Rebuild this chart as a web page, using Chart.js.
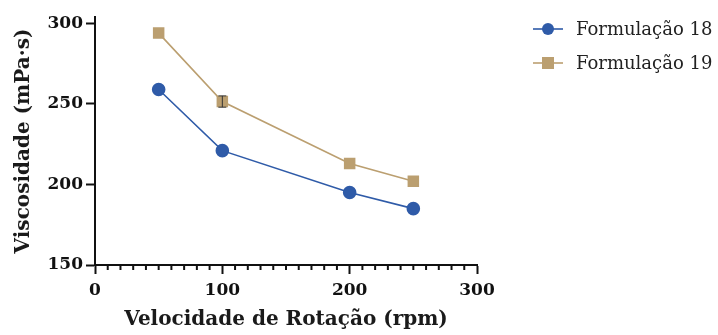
<!DOCTYPE html>
<html>
<head>
<meta charset="utf-8">
<script src="https://cdn.jsdelivr.net/npm/chart.js@4/dist/chart.umd.min.js"></script>
<style>
  html, body { margin: 0; padding: 0; background: #fff; }
  #wrap { position: relative; width: 718px; height: 335px; }
  canvas { display: block; }
  .leg { position: absolute; left: 533px; font: 18px "DejaVu Serif", serif; color: #222; display: flex; align-items: center; }
  .leg svg { margin-right: 13px; }
</style>
</head>
<body>
<div id="wrap">
  <canvas id="c" width="718" height="335"></canvas>
  <div class="leg" style="top:18px"><svg width="30" height="14"><line x1="0" y1="7" x2="30" y2="7" stroke="#2f5ba8" stroke-width="1.6"/><circle cx="15" cy="7" r="6" fill="#2f5ba8"/></svg>Formulação 18</div>
  <div class="leg" style="top:52px"><svg width="30" height="14"><line x1="0" y1="7" x2="30" y2="7" stroke="#bb9f70" stroke-width="1.6"/><rect x="9" y="1" width="12" height="12" fill="#bb9f70"/></svg>Formulação 19</div>
</div>
<script>
/* Viscosidade vs velocidade de rotação */

const rpm       = [50, 100, 200, 250];
const form18    = [259, 221, 195, 185];
const form19    = [294, 251.5, 213, 202];
const err18     = [0, 0, 0, 0];
const err19     = [0, 3.5, 0, 0];
const yTicks    = [150, 200, 250, 300];
const xTicks    = [0, 100, 200, 300];

const BLUE = "#2f5ba8";
const TAN  = "#bb9f70";
const TICK_FONT  = { family: "'DejaVu Serif', serif", size: 17, weight: "bold" };
const TITLE_FONT = { family: "'DejaVu Serif', serif", size: 20, weight: "bold" };

// error bars + minor ticks on x axis
const extras = {
  id: "extras",
  afterDatasetsDraw(chart) {
    const { ctx, scales: { x, y } } = chart;
    const errs = [err18, err19];
    ctx.save();
    chart.data.datasets.forEach((ds, i) => {
      ds.data.forEach((p, j) => {
        const e = errs[i][j];
        if (!e) return;
        const px = x.getPixelForValue(p.x);
        const y1 = y.getPixelForValue(p.y + e);
        const y2 = y.getPixelForValue(p.y - e);
        ctx.strokeStyle = "#333";
        ctx.lineWidth = 1;
        ctx.beginPath();
        ctx.moveTo(px, y1); ctx.lineTo(px, y2);
        ctx.moveTo(px - 4, y1); ctx.lineTo(px + 4, y1);
        ctx.moveTo(px - 4, y2); ctx.lineTo(px + 4, y2);
        ctx.stroke();
      });
    });
    // minor ticks every 10 rpm
    ctx.strokeStyle = "#111";
    ctx.lineWidth = 2;
    const base = y.bottom;
    for (let v = 10; v < 300; v += 10) {
      if (v % 100 === 0) continue;
      const px = x.getPixelForValue(v);
      ctx.beginPath();
      ctx.moveTo(px, base);
      ctx.lineTo(px, base + 5);
      ctx.stroke();
    }
    ctx.restore();
  },
};

new Chart(document.getElementById("c"), {
  type: "scatter",
  data: {
    datasets: [
      {
        label: "Formulação 18",
        data: rpm.map((r, i) => ({ x: r, y: form18[i] })),
        showLine: true,
        borderColor: BLUE,
        backgroundColor: BLUE,
        borderWidth: 1.6,
        pointStyle: "circle",
        pointRadius: 6,
        pointHoverRadius: 6,
      },
      {
        label: "Formulação 19",
        data: rpm.map((r, i) => ({ x: r, y: form19[i] })),
        showLine: true,
        borderColor: TAN,
        backgroundColor: TAN,
        borderWidth: 1.6,
        pointStyle: "rect",
        pointRadius: 7,
        pointHoverRadius: 7,
      },
    ],
  },
  options: {
    responsive: false,
    animation: false,
    layout: { padding: { top: 17, right: 241, left: 0, bottom: 0 } },
    plugins: { legend: { display: false }, tooltip: { enabled: false } },
    scales: {
      x: {
        type: "linear",
        min: 0,
        max: 300,
        afterBuildTicks: s => { s.ticks = xTicks.map(v => ({ value: v })); },
        afterFit: s => { s.height = 70; },
        grid: { drawOnChartArea: false, tickLength: 9, tickWidth: 2, tickColor: "#111" },
        border: { color: "#111", width: 2 },
        ticks: { color: "#111", font: TICK_FONT, padding: 6, maxRotation: 0 },
        title: { display: true, text: "Velocidade de Rotação (rpm)", color: "#1a1a1a", font: TITLE_FONT, padding: { top: 0, bottom: 3 } },
      },
      y: {
        type: "linear",
        min: 150,
        max: 304,
        afterBuildTicks: s => { s.ticks = yTicks.map(v => ({ value: v })); },
        afterFit: s => { s.width = 95; },
        grid: { drawOnChartArea: false, tickLength: 9, tickWidth: 2, tickColor: "#111" },
        border: { color: "#111", width: 2 },
        ticks: { color: "#111", font: TICK_FONT, padding: 3 },
        title: { display: true, text: "Viscosidade (mPa·s)", color: "#1a1a1a", font: TITLE_FONT, padding: { top: 12, bottom: 4 } },
      },
    },
  },
  plugins: [extras],
});
</script>
</body>
</html>
